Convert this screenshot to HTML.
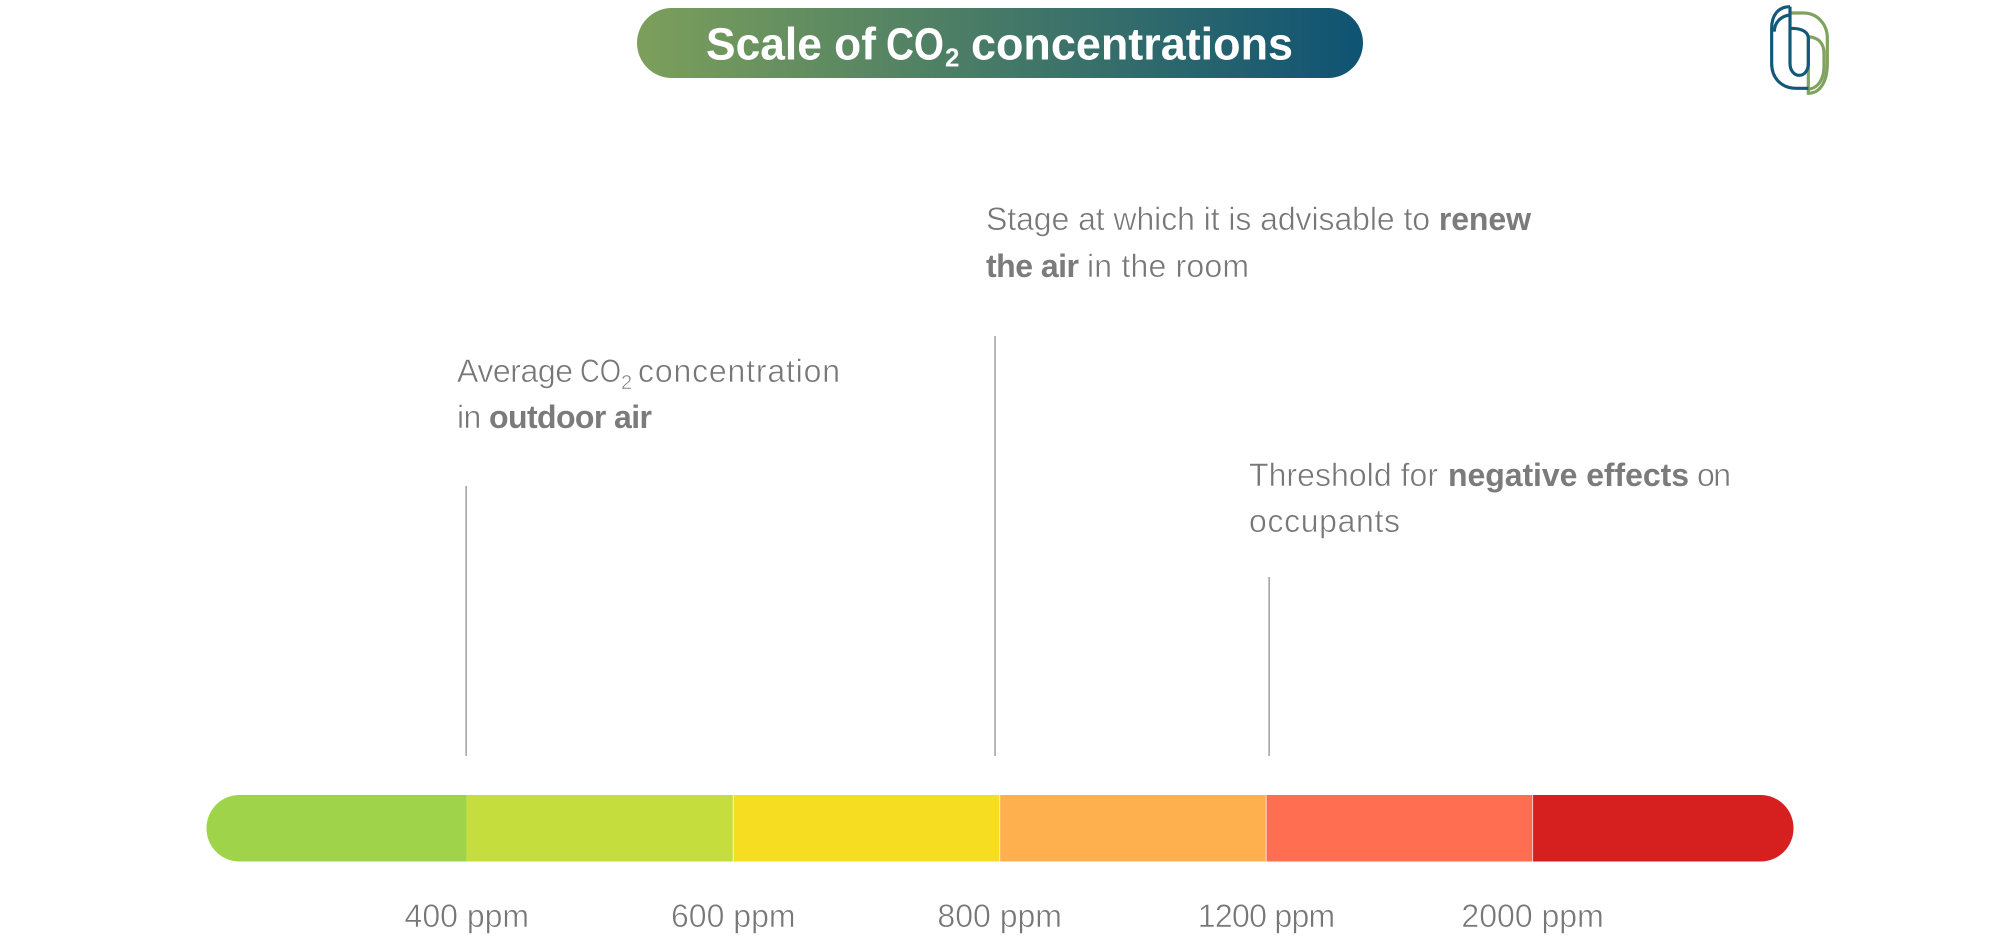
<!DOCTYPE html>
<html lang="en">
<head>
<meta charset="utf-8">
<title>Scale of CO2 concentrations</title>
<style>
html,body{margin:0;padding:0;background:#fff;width:2000px;height:943px;overflow:hidden}
svg{display:block}
text{font-family:"Liberation Sans",sans-serif}
.note{font-size:32px;fill:#777;stroke:#fff;stroke-width:.55px}
.note .b{font-weight:700;fill:#7b7b7b;stroke:none}
.tick{font-size:32px;fill:#777;stroke:#fff;stroke-width:.55px}
.title{font-size:45px;font-weight:700;fill:#fff}
</style>
</head>
<body>
<svg id="chart" xmlns="http://www.w3.org/2000/svg" width="2000" height="943" viewBox="0 0 2000 943">
  <defs>
    <linearGradient id="titleGrad" x1="0" y1="0" x2="1" y2="0">
      <stop offset="0" stop-color="#7c9f5b"/>
      <stop offset="1" stop-color="#0f5373"/>
    </linearGradient>
    <clipPath id="barClip"><rect x="206.5" y="795" width="1587" height="66.5" rx="33" ry="33"/></clipPath>
  </defs>

  <g>
    <rect x="637" y="8" width="726" height="70" rx="35" ry="35" fill="url(#titleGrad)"/>
    <text class="title" y="59.5"><tspan x="706" textLength="170" lengthAdjust="spacingAndGlyphs">Scale of</tspan> <tspan x="886" textLength="58" lengthAdjust="spacingAndGlyphs">CO</tspan><tspan x="945" font-size="26" dy="7">2</tspan> <tspan x="971" dy="-7" textLength="322" lengthAdjust="spacingAndGlyphs">concentrations</tspan></text>
  </g>

  <g transform="translate(1740 0) scale(.3333)" fill="none" stroke-width="9.5">
    <g stroke="#7fa25e">
      <path d="M153 39 H190 C232 39 262 72 262 115 V190 C262 245 240 280 205 280 V110"/>
      <path d="M205 110 C235 112 252 130 252 160 V200 C252 240 232 265 205 268"/>
    </g>
    <g stroke="#12587a">
      <path d="M150 20 C115 20 95 45 95 85 V190 C95 235 125 265 170 265 H205"/>
      <path d="M150 45 C122 48 103 68 103 95"/>
      <path d="M150 20 V190 C150 212 163 226 178 226 C193 226 205 212 205 190 V115 C205 98 190 85 152 85"/>
    </g>
  </g>

  <text class="note" y="382"><tspan x="457" textLength="116">Average</tspan> <tspan x="580" textLength="41" lengthAdjust="spacingAndGlyphs">CO</tspan><tspan x="621" font-size="20" dy="7">2</tspan> <tspan x="638" dy="-7" textLength="202">concentration</tspan></text>
  <text class="note" x="457" y="428" textLength="195">in <tspan class="b">outdoor air</tspan></text>

  <text class="note" x="986" y="230" textLength="545">Stage at which it is advisable to <tspan class="b">renew</tspan></text>
  <text class="note" y="277"><tspan class="b" x="986" textLength="93">the air</tspan> <tspan x="1087" textLength="162">in the room</tspan></text>

  <text class="note" y="486"><tspan x="1249" textLength="189">Threshold for</tspan> <tspan class="b" x="1448" textLength="241">negative effects</tspan> <tspan x="1697" textLength="34">on</tspan></text>
  <text class="note" x="1249" y="532" textLength="151">occupants</text>

  <g id="leaders"></g>
  <g id="bands" clip-path="url(#barClip)"></g>
  <g id="ticks"></g>
</svg>

<script>
// Chart data
var thresholds = [400, 600, 800, 1200, 2000];
var tickLabels = ['400 ppm', '600 ppm', '800 ppm', '1200 ppm', '2000 ppm'];
var bandColors = ['#9fd44a', '#c5de3d', '#f6dd22', '#ffb04e', '#ff6e50', '#d61f1f'];
var markerValues = [399.5, 796.5, 1209];
var markerHeights = [270, 420, 179];

// Ordinal-like ppm axis: each threshold interval takes the same width
var NS = 'http://www.w3.org/2000/svg';
var barLeft = 206.5, barRight = 1793.5, barTop = 795, barHeight = 66.5;
var firstTickX = 466.8, tickStep = 266.45, leaderBottom = 756, labelBaseline = 927;

function xForPpm(ppm) {
  var last = thresholds.length - 1;
  var i = 0;
  while (i < last - 1 && ppm > thresholds[i + 1]) { i++; }
  var t = (ppm - thresholds[i]) / (thresholds[i + 1] - thresholds[i]);
  return firstTickX + (i + t) * tickStep;
}

var bands = document.getElementById('bands');
var ticks = document.getElementById('ticks');
var leaders = document.getElementById('leaders');

bandColors.forEach(function (color, i) {
  var x0 = i === 0 ? barLeft : xForPpm(thresholds[i - 1]);
  var x1 = i === thresholds.length ? barRight : xForPpm(thresholds[i]);
  var band = document.createElementNS(NS, 'rect');
  
  
  band.setAttribute('x', x0);
  band.setAttribute('y', barTop);
  band.setAttribute('width', x1 - x0);
  band.setAttribute('height', barHeight);
  band.setAttribute('fill', color);
  bands.appendChild(band);
});

thresholds.forEach(function (value, i) {
  var x = xForPpm(value);
  if (i > 0) {
    var divider = document.createElementNS(NS, 'line');
    
    
    divider.setAttribute('x1', x);
    divider.setAttribute('x2', x);
    divider.setAttribute('y1', barTop);
    divider.setAttribute('y2', barTop + barHeight);
    divider.setAttribute('stroke', '#fff');
    divider.setAttribute('stroke-opacity', '.7');
    divider.setAttribute('stroke-width', '1');
    bands.appendChild(divider);
  }
  var label = document.createElementNS(NS, 'text');
  
  
  label.setAttribute('class', 'tick');
  label.setAttribute('x', x);
  label.setAttribute('y', labelBaseline);
  label.setAttribute('text-anchor', 'middle');
  if (tickLabels[i].indexOf('1') !== -1) {
    label.style.letterSpacing = '-.7px';
  }
  label.textContent = tickLabels[i];
  ticks.appendChild(label);
});

markerValues.forEach(function (value, i) {
  var x = xForPpm(value);
  var leader = document.createElementNS(NS, 'line');
  
  
  leader.setAttribute('x1', x);
  leader.setAttribute('x2', x);
  leader.setAttribute('y1', leaderBottom - markerHeights[i]);
  leader.setAttribute('y2', leaderBottom);
  leader.setAttribute('stroke', '#a6a6a6');
  leader.setAttribute('stroke-width', '1.6');
  leaders.appendChild(leader);
});
</script>
</body>
</html>
